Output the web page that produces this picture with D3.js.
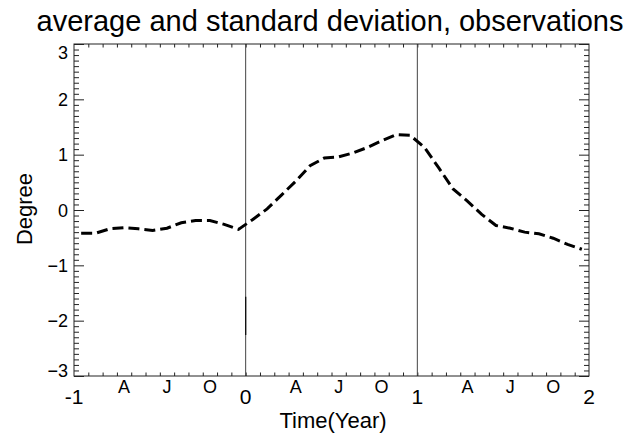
<!DOCTYPE html>
<html>
<head>
<meta charset="utf-8">
<script src="https://cdn.jsdelivr.net/npm/d3@7/dist/d3.min.js"></script>
<style>
  html, body { margin: 0; padding: 0; background: #fff; }
  svg { display: block; font-family: "Liberation Sans", Arial, Helvetica, sans-serif; }
</style>
</head>
<body>
<svg id="chart" width="629" height="434"></svg>
<script>
// Monthly mean anomaly (degree), three consecutive years starting at year -1
const meanAnomaly = [
  -0.42, -0.42, -0.34, -0.32, -0.34, -0.37, -0.33, -0.23, -0.19, -0.19, -0.26, -0.35,
  -0.17,  0.02,  0.27,  0.52,  0.80,  0.94,  0.96,  1.03,  1.13,  1.25,  1.36,  1.35,
   1.13,  0.76,  0.38,  0.16, -0.08, -0.28, -0.33, -0.40, -0.43, -0.51, -0.62, -0.71
];
// Spread marker drawn on the year-0 line
const spreadLow = -2.26;
const spreadHigh = -1.57;

const yearTicks = [-1, 0, 1, 2];
const yearLines = [0, 1];
const yTickValues = [-3, -2, -1, 0, 1, 2, 3];
const monthLetters = ["A", "J", "O"];
const monthLetterIndex = [3, 6, 9];

const titleText = "average and standard deviation, observations";
const xTitle = "Time(Year)";
const yTitle = "Degree";

const svg = d3.select("#chart");
const plotL = 74, plotR = 589, plotT = 44, plotB = 376;
const x = d3.scaleLinear().domain([-1, 2]).range([plotL, plotR]);
const y = d3.scaleLinear().domain([-3, 3]).range([plotB, plotT]);
const ink = "#222";

// month centre in years
const monthTime = (i) => -1 + (i + 0.5) / 12;

// Title
svg.append("text")
  .attr("x", 330).attr("y", 31)
  .attr("text-anchor", "middle")
  .attr("font-size", 29)
  .text(titleText);

// Minor ticks on all four sides
const monthEdges = d3.range(1, 36).map(i => -1 + i / 12);
const tenths = d3.range(-29, 30).map(v => v / 10).filter(v => Math.abs(v - Math.round(v)) > 1e-6);

svg.append("g").attr("transform", `translate(0,${plotB})`)
  .call(d3.axisBottom(x).tickValues(monthEdges).tickSize(-3.5).tickSizeOuter(0).tickFormat(""));
svg.append("g").attr("transform", `translate(0,${plotT})`)
  .call(d3.axisTop(x).tickValues(monthEdges).tickSize(-3.5).tickSizeOuter(0).tickFormat(""));
svg.append("g").attr("transform", `translate(${plotL},0)`)
  .call(d3.axisLeft(y).tickValues(tenths).tickSize(-5).tickSizeOuter(0).tickFormat(""));
svg.append("g").attr("transform", `translate(${plotR},0)`)
  .call(d3.axisRight(y).tickValues(tenths).tickSize(-5).tickSizeOuter(0).tickFormat(""));
svg.append("g").attr("transform", `translate(${plotR},0)`)
  .call(d3.axisRight(y).tickValues(yTickValues).tickSize(-10).tickSizeOuter(0).tickFormat(""));

// Left axis with major ticks and labels
const yAxis = svg.append("g").attr("class", "y-axis").attr("transform", `translate(${plotL},0)`)
  .call(d3.axisLeft(y).tickValues(yTickValues).tickSize(-10).tickSizeOuter(0).tickPadding(6)
    .tickFormat(d3.format("d")));
yAxis.selectAll("text")
  .attr("font-size", 18).attr("fill", "#000")
  .attr("font-family", "Liberation Sans, Arial, sans-serif")
  .attr("dy", d => d === 3 ? "0.78em" : d === -3 ? "0.0em" : "0.35em");

svg.selectAll("g .domain").remove();
svg.selectAll("g .tick line").attr("stroke", ink).attr("stroke-width", 1);

// Year labels
svg.append("g").selectAll("text").data(yearTicks).join("text")
  .attr("x", d => x(d)).attr("y", 404)
  .attr("text-anchor", "middle")
  .attr("font-size", 21)
  .text(d => d);

// Month letters under the bottom axis
svg.append("g").selectAll("text").data(d3.range(3).flatMap(yr => monthLetterIndex.map((m, k) => ({ t: monthTime(yr * 12 + m), s: monthLetters[k] }))))
  .join("text")
  .attr("x", d => x(d.t)).attr("y", 393)
  .attr("text-anchor", "middle")
  .attr("font-size", 18)
  .text(d => d.s);

// Axis titles
svg.append("text")
  .attr("x", 333).attr("y", 428)
  .attr("text-anchor", "middle")
  .attr("font-size", 22)
  .text(xTitle);
svg.append("text")
  .attr("transform", `translate(32,${y(0) - 1}) rotate(-90)`)
  .attr("text-anchor", "middle")
  .attr("font-size", 22)
  .text(yTitle);

// Year boundary lines
svg.append("g").selectAll("line").data(yearLines).join("line")
  .attr("x1", d => x(d)).attr("x2", d => x(d))
  .attr("y1", plotT).attr("y2", plotB)
  .attr("stroke", "#444").attr("stroke-width", 1);

// Spread marker
svg.append("line")
  .attr("x1", x(0)).attr("x2", x(0))
  .attr("y1", y(spreadHigh)).attr("y2", y(spreadLow))
  .attr("stroke", "#111").attr("stroke-width", 1.3);

// Plot frame
svg.append("rect")
  .attr("x", plotL).attr("y", plotT)
  .attr("width", plotR - plotL).attr("height", plotB - plotT)
  .attr("fill", "none").attr("stroke", ink).attr("stroke-width", 1);

// Mean curve
const line = d3.line()
  .x((d, i) => x(monthTime(i)))
  .y(d => y(d));
svg.append("path")
  .datum(meanAnomaly)
  .attr("d", line)
  .attr("fill", "none")
  .attr("stroke", "#000")
  .attr("stroke-width", 3)
  .attr("stroke-dasharray", "11,5");
</script>
</body>
</html>
